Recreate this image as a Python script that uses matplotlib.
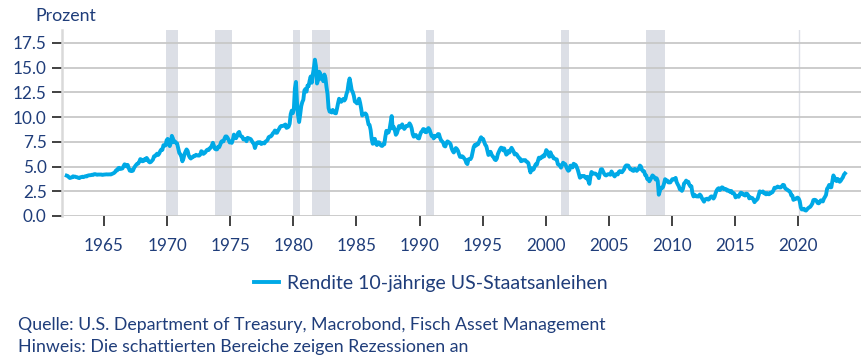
import numpy as np
import matplotlib.pyplot as plt

# monthly 10y US treasury yield, Jan 1962 .. Sep 2023 (percent)
yields = {
    1962: [4.08, 4.04, 3.93, 3.84, 3.87, 3.91, 4.01, 3.98, 3.98, 3.93, 3.92, 3.86],
    1963: [3.83, 3.92, 3.93, 3.97, 3.93, 3.99, 4.02, 4.00, 4.08, 4.11, 4.12, 4.13],
    1964: [4.17, 4.15, 4.22, 4.23, 4.20, 4.17, 4.19, 4.19, 4.20, 4.19, 4.15, 4.18],
    1965: [4.19, 4.21, 4.21, 4.20, 4.21, 4.21, 4.20, 4.25, 4.29, 4.35, 4.45, 4.62],
    1966: [4.61, 4.83, 4.87, 4.75, 4.78, 4.81, 5.02, 5.22, 5.18, 5.01, 5.16, 4.84],
    1967: [4.58, 4.63, 4.54, 4.59, 4.85, 5.02, 5.16, 5.28, 5.30, 5.48, 5.75, 5.70],
    1968: [5.53, 5.56, 5.74, 5.64, 5.87, 5.72, 5.50, 5.42, 5.46, 5.58, 5.70, 6.03],
    1969: [6.04, 6.19, 6.30, 6.17, 6.32, 6.57, 6.72, 6.69, 7.16, 7.10, 7.14, 7.65],
    1970: [7.79, 7.24, 7.07, 7.39, 8.10, 7.84, 7.46, 7.53, 7.39, 7.33, 6.84, 6.39],
    1971: [6.24, 6.00, 5.53, 5.80, 6.25, 6.51, 6.73, 6.58, 6.14, 5.93, 5.81, 5.93],
    1972: [5.95, 6.08, 6.07, 6.19, 6.13, 6.11, 6.11, 6.21, 6.55, 6.48, 6.28, 6.36],
    1973: [6.46, 6.64, 6.71, 6.67, 6.85, 6.90, 7.13, 7.40, 7.09, 6.79, 6.73, 6.74],
    1974: [6.99, 6.96, 7.21, 7.51, 7.58, 7.54, 7.81, 8.04, 8.04, 7.90, 7.68, 7.43],
    1975: [7.50, 7.39, 7.73, 8.23, 8.06, 7.86, 8.06, 8.40, 8.50, 8.14, 8.05, 8.00],
    1976: [7.74, 7.79, 7.73, 7.56, 7.90, 7.86, 7.83, 7.77, 7.59, 7.41, 7.29, 6.87],
    1977: [7.21, 7.39, 7.46, 7.37, 7.46, 7.28, 7.33, 7.40, 7.34, 7.52, 7.58, 7.69],
    1978: [7.96, 8.03, 8.04, 8.15, 8.35, 8.46, 8.64, 8.41, 8.42, 8.64, 8.81, 9.01],
    1979: [9.10, 9.10, 9.12, 9.18, 9.25, 8.91, 8.95, 9.03, 9.33, 10.30, 10.65, 10.39],
    1980: [10.80, 12.90, 13.55, 11.47, 10.18, 9.50, 10.25, 11.10, 11.51, 11.75, 12.68, 12.84],
    1981: [12.57, 13.19, 13.12, 13.68, 14.10, 13.47, 14.28, 14.94, 15.80, 15.15, 13.39, 13.72],
    1982: [14.59, 14.43, 13.86, 13.87, 13.62, 14.30, 13.95, 13.06, 12.34, 10.91, 10.55, 10.54],
    1983: [10.46, 10.72, 10.51, 10.40, 10.38, 10.85, 11.38, 11.85, 11.65, 11.54, 11.69, 11.83],
    1984: [11.67, 11.84, 12.32, 12.63, 13.41, 13.90, 13.36, 12.72, 12.52, 12.16, 11.57, 11.50],
    1985: [11.38, 11.51, 11.86, 11.43, 10.85, 10.16, 10.31, 10.33, 10.37, 10.24, 9.78, 9.26],
    1986: [9.19, 8.70, 7.78, 7.30, 7.71, 7.80, 7.30, 7.17, 7.45, 7.43, 7.25, 7.11],
    1987: [7.08, 7.25, 7.25, 8.02, 8.61, 8.40, 8.45, 8.76, 9.42, 10.10, 8.86, 8.99],
    1988: [8.67, 8.21, 8.37, 8.72, 9.09, 8.92, 9.06, 9.26, 8.98, 8.80, 8.96, 9.11],
    1989: [9.09, 9.17, 9.36, 9.18, 8.86, 8.28, 8.02, 8.11, 8.19, 8.01, 7.87, 7.84],
    1990: [8.21, 8.47, 8.59, 8.79, 8.76, 8.48, 8.47, 8.75, 8.89, 8.72, 8.39, 8.08],
    1991: [8.09, 7.85, 8.11, 8.04, 8.07, 8.28, 8.27, 7.90, 7.65, 7.53, 7.42, 7.09],
    1992: [7.03, 7.34, 7.54, 7.48, 7.39, 7.26, 6.84, 6.59, 6.42, 6.59, 6.87, 6.77],
    1993: [6.60, 6.26, 5.98, 5.97, 6.04, 5.96, 5.81, 5.68, 5.36, 5.25, 5.72, 5.77],
    1994: [5.75, 5.97, 6.48, 6.97, 7.18, 7.10, 7.30, 7.24, 7.46, 7.74, 7.96, 7.81],
    1995: [7.78, 7.47, 7.20, 7.06, 6.63, 6.17, 6.28, 6.49, 6.20, 6.04, 5.93, 5.71],
    1996: [5.65, 5.81, 6.27, 6.51, 6.74, 6.91, 6.87, 6.64, 6.83, 6.53, 6.20, 6.30],
    1997: [6.58, 6.42, 6.69, 6.89, 6.71, 6.49, 6.22, 6.30, 6.21, 6.03, 5.88, 5.81],
    1998: [5.54, 5.57, 5.65, 5.64, 5.65, 5.50, 5.46, 5.34, 4.81, 4.40, 4.83, 4.65],
    1999: [4.72, 5.00, 5.23, 5.18, 5.54, 5.90, 5.79, 5.94, 5.92, 6.11, 6.03, 6.28],
    2000: [6.66, 6.52, 6.26, 5.99, 6.44, 6.10, 6.05, 5.83, 5.80, 5.74, 5.72, 5.24],
    2001: [5.16, 5.10, 4.89, 5.14, 5.39, 5.28, 5.24, 4.97, 4.73, 4.57, 4.65, 5.09],
    2002: [5.04, 4.91, 5.28, 5.21, 5.16, 4.93, 4.65, 4.26, 3.87, 3.94, 4.05, 4.03],
    2003: [4.05, 3.90, 3.81, 3.96, 3.57, 3.25, 3.98, 4.45, 4.27, 4.29, 4.30, 4.27],
    2004: [4.15, 4.08, 3.83, 4.35, 4.72, 4.73, 4.50, 4.28, 4.13, 4.10, 4.19, 4.23],
    2005: [4.22, 4.17, 4.50, 4.34, 4.14, 4.00, 4.18, 4.26, 4.20, 4.46, 4.54, 4.47],
    2006: [4.42, 4.57, 4.72, 4.99, 5.11, 5.11, 5.09, 4.88, 4.72, 4.73, 4.60, 4.56],
    2007: [4.76, 4.72, 4.56, 4.69, 4.75, 5.10, 5.00, 4.67, 4.52, 4.53, 4.15, 4.10],
    2008: [3.74, 3.74, 3.51, 3.68, 3.88, 4.10, 4.01, 3.89, 3.69, 3.81, 3.53, 2.15],
    2009: [2.52, 2.87, 2.82, 2.93, 3.29, 3.72, 3.56, 3.59, 3.40, 3.39, 3.40, 3.59],
    2010: [3.73, 3.69, 3.73, 3.85, 3.42, 3.20, 3.01, 2.70, 2.65, 2.54, 2.76, 3.29],
    2011: [3.39, 3.58, 3.41, 3.46, 3.17, 3.00, 3.00, 2.30, 1.98, 2.15, 2.01, 1.98],
    2012: [1.97, 1.97, 2.17, 2.05, 1.80, 1.62, 1.45, 1.68, 1.72, 1.75, 1.65, 1.72],
    2013: [1.91, 1.98, 1.96, 1.76, 1.93, 2.30, 2.58, 2.74, 2.81, 2.62, 2.72, 2.90],
    2014: [2.86, 2.71, 2.72, 2.71, 2.56, 2.60, 2.54, 2.42, 2.53, 2.30, 2.33, 2.21],
    2015: [1.88, 1.98, 2.04, 1.94, 2.20, 2.36, 2.32, 2.17, 2.17, 2.07, 2.26, 2.24],
    2016: [2.09, 1.78, 1.89, 1.81, 1.81, 1.64, 1.40, 1.56, 1.63, 1.76, 2.14, 2.49],
    2017: [2.43, 2.42, 2.48, 2.30, 2.30, 2.19, 2.32, 2.21, 2.20, 2.36, 2.35, 2.40],
    2018: [2.58, 2.86, 2.84, 2.87, 2.98, 2.91, 2.89, 2.89, 3.00, 3.15, 3.12, 2.83],
    2019: [2.71, 2.68, 2.57, 2.53, 2.40, 2.07, 2.06, 1.63, 1.70, 1.71, 1.81, 1.86],
    2020: [1.76, 1.50, 0.87, 0.66, 0.67, 0.73, 0.58, 0.55, 0.68, 0.79, 0.87, 0.93],
    2021: [1.08, 1.26, 1.61, 1.64, 1.62, 1.52, 1.32, 1.28, 1.37, 1.58, 1.56, 1.47],
    2022: [1.76, 1.93, 2.13, 2.75, 2.90, 3.14, 2.90, 2.90, 3.52, 4.10, 3.89, 3.62],
    2023: [3.53, 3.75, 3.66, 3.46, 3.57, 3.75, 3.90, 4.17, 4.30],
}

# US recessions (start, end) in decimal years
recessions = [(1969.92, 1970.87), (1973.83, 1975.17), (1980.0, 1980.5),
              (1981.5, 1982.87), (1990.5, 1991.17), (2001.17, 2001.83),
              (2007.92, 2009.42)]
covid = 2020.1

x_ticks = list(range(1965, 2021, 5))
y_ticks = [0.0, 2.5, 5.0, 7.5, 10.0, 12.5, 15.0, 17.5]

dates = []
values = []
for year, months in yields.items():
    for m, v in enumerate(months):
        dates.append(year + (m + 0.5) / 12)
        values.append(v)

navy = '#1f3d7a'
plt.rcParams['font.family'] = ['Lato', 'DejaVu Sans']

fig = plt.figure(figsize=(8.61, 3.6), dpi=100)
ax = fig.add_axes([62 / 861, 1 - 216 / 360, 1 - 62 / 861, (216 - 30) / 360])

for start, end in recessions:
    ax.axvspan(start, end, color='#dcdfe6', lw=0, zorder=0)
ax.axvline(covid, color='#dcdfe6', lw=1, zorder=0)

for yv in y_ticks:
    ax.axhline(yv, color='#c8c8c8', lw=1.3, zorder=1)

ax.plot(dates, values, color='#00a9e6', lw=2.8, zorder=3,
        label='Rendite 10-jährige US-Staatsanleihen')

ax.set_xlim(1961.67, 2024.98)
ax.set_ylim(0, 18.8)
ax.set_xticks(x_ticks)
ax.set_yticks(y_ticks)
ax.set_yticklabels([f'{v:.1f}' for v in y_ticks])

for side in ['top', 'right', 'bottom']:
    ax.spines[side].set_visible(False)
ax.spines['left'].set_color('#d9d9d9')
ax.spines['left'].set_linewidth(1.8)

ax.tick_params(axis='x', colors='#333333', length=7, width=1.3, pad=9,
               labelcolor=navy, labelsize=12.3, direction='out')
ax.tick_params(axis='y', colors='#333333', length=7, width=1.3, pad=4,
               labelcolor=navy, labelsize=12.3)

fig.text(35 / 861, 1 - 16 / 360, 'Prozent', color=navy, fontsize=12.8, va='center')

ax.legend(loc='center', bbox_to_anchor=(0.5, 1 - 283 / 360), bbox_transform=fig.transFigure,
          frameon=False, fontsize=14, labelcolor=navy, handlelength=1.3, handletextpad=0.4)

fig.text(18 / 861, 1 - 325 / 360, 'Quelle: U.S. Department of Treasury, Macrobond, Fisch Asset Management',
         color=navy, fontsize=12.8, va='center')
fig.text(18 / 861, 1 - 347 / 360, 'Hinweis: Die schattierten Bereiche zeigen Rezessionen an',
         color=navy, fontsize=12.8, va='center')

fig.savefig('out.png', dpi=100)
